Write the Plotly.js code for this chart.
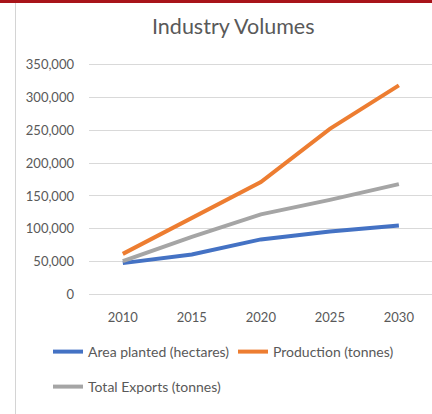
<!DOCTYPE html>
<html>
<head>
<meta charset="utf-8">
<script src="https://cdn.plot.ly/plotly-3.0.1.min.js"></script>
<style>
  html, body { margin: 0; padding: 0; background: #ffffff; overflow: hidden; }
  #wrap { position: relative; width: 432px; height: 414px; }
  #redbar { position: absolute; left: 0; top: 0; width: 432px; height: 3px; background: #a8141a; z-index: 2; }
  #leftline { position: absolute; left: 15px; top: 3px; width: 1px; height: 411px; background: #d4d4d4; z-index: 2; }
  #chart { position: absolute; left: 0; top: 0; width: 432px; height: 414px; }
</style>
</head>
<body>
<div id="wrap">
  <div id="chart"></div>
  <div id="redbar"></div>
  <div id="leftline"></div>
</div>
<script>
const years = ['2010', '2015', '2020', '2025', '2030'];
const areaPlanted = [48000, 61000, 84000, 96000, 105000];
const production = [62000, 117000, 171000, 252000, 318000];
const totalExports = [51000, 88000, 122000, 144000, 168000];
const seriesNames = ['Area planted (hectares)', 'Production (tonnes)', 'Total Exports (tonnes)'];
const seriesColors = ['#4472C4', '#ED7D31', '#A5A5A5'];
const yTicks = [0, 50000, 100000, 150000, 200000, 250000, 300000, 350000];

const font = 'Lato, "Open Sans", sans-serif';
const grey = '#595959';

const xIdx = years.map((_, i) => i);
const traces = [
  { x: xIdx, y: areaPlanted, name: seriesNames[0], legend: 'legend' },
  { x: xIdx, y: production, name: seriesNames[1], legend: 'legend2' },
  { x: xIdx, y: totalExports, name: seriesNames[2], legend: 'legend3' }
].map((t, i) => Object.assign(t, {
  type: 'scatter', mode: 'lines',
  line: { color: seriesColors[i], width: 4 },
  hoverinfo: 'skip'
}));

function leg(x, y) {
  return {
    xref: 'container', yref: 'container', x: x, y: y,
    xanchor: 'left', yanchor: 'middle',
    bgcolor: 'rgba(0,0,0,0)', borderwidth: 0,
    font: { family: font, size: 14, color: grey },
    itemwidth: 30, tracegroupgap: 0
  };
}

const layout = {
  width: 432, height: 414,
  paper_bgcolor: 'rgba(0,0,0,0)', plot_bgcolor: 'rgba(0,0,0,0)',
  margin: { l: 89, r: 0, t: 61, b: 116, autoexpand: false },
  title: {
    text: 'Industry Volumes',
    font: { family: font, size: 21.5, color: grey },
    x: 0.54, xanchor: 'center', xref: 'container',
    y: 1 - 26 / 414, yanchor: 'middle', yref: 'container',
    automargin: false
  },
  xaxis: {
    type: 'linear', range: [-0.49, 4.48],
    tickmode: 'array', tickvals: xIdx, ticktext: years,
    showgrid: false, zeroline: false, showline: false, ticks: '',
    tickfont: { family: font, size: 13, color: grey },
    ticklabelstandoff: 10, fixedrange: true, automargin: false
  },
  yaxis: {
    range: [-5000, 355000],
    tickmode: 'array', tickvals: yTicks,
    tickformat: ',d',
    showgrid: true, gridcolor: '#d9d9d9', gridwidth: 1,
    zeroline: false, showline: false, ticks: '',
    tickfont: { family: font, size: 13, color: grey },
    ticklabelstandoff: 14, fixedrange: true, automargin: false
  },
  showlegend: true,
  legend: leg(48 / 432, 1 - 352 / 414),
  legend2: leg(233 / 432, 1 - 352 / 414),
  legend3: leg(48 / 432, 1 - 387 / 414)
};

Plotly.newPlot('chart', traces, layout, { displayModeBar: false, staticPlot: true });
</script>
</body>
</html>
